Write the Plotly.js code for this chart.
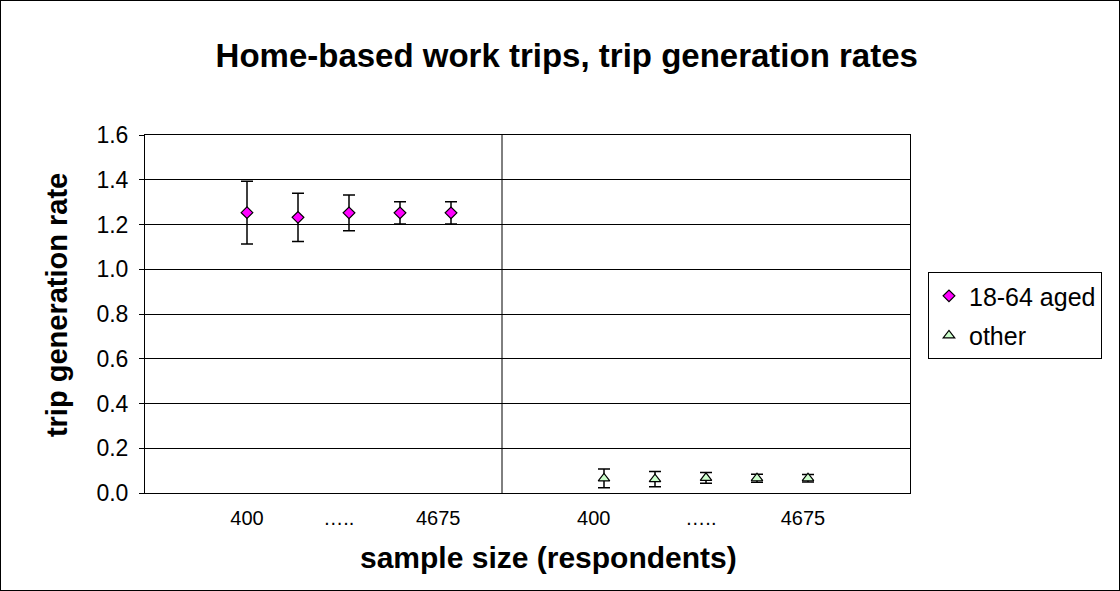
<!DOCTYPE html>
<html>
<head>
<meta charset="utf-8">
<script src="https://cdn.plot.ly/plotly-3.0.1.min.js"></script>
<style>
  html, body { margin: 0; padding: 0; background: #fff; }
  #wrap { position: relative; width: 1120px; height: 591px; }
  #chart { width: 1120px; height: 591px; }
  #frame { position: absolute; left: 0; top: 0; width: 1118px; height: 589px;
           border: 1px solid #000; pointer-events: none; }
</style>
</head>
<body>
<div id="wrap">
  <div id="chart"></div>
  <div id="frame"></div>
</div>
<script>
// Sample-size slots on the category axis (group 1 left of the divider, group 2 right)
const adultSlots = [2, 3, 4, 5, 6];
const otherSlots = [9, 10, 11, 12, 13];
const dividerSlot = 7;

// Trip generation rates and the half-width of their confidence intervals
const adultRates = [1.253, 1.232, 1.252, 1.252, 1.252];
const adultErr   = [0.140, 0.108, 0.080, 0.050, 0.050];
const otherRates = [0.065, 0.062, 0.068, 0.066, 0.066];
const otherErr   = [0.042, 0.034, 0.024, 0.018, 0.017];

// Category labels under the axis
const tickSlots  = [2, 3.8, 5.75, 8.8, 10.9, 12.9];
const tickLabels = ['400', '…..', '4675', '400', '…..', '4675'];

const font = 'Arial, "Liberation Sans", sans-serif';

const traces = [
  {
    name: '18-64 aged', x: adultSlots, y: adultRates, type: 'scatter', mode: 'markers',
    legendgroup: 'a',
    marker: { symbol: 'diamond', size: 9, color: '#FF00FF', line: { color: '#000', width: 1.2 } },
    error_y: { type: 'data', array: adultErr, visible: true, color: '#000', thickness: 1.5, width: 6 }
  },
  {
    name: 'other', x: otherSlots, y: otherRates, type: 'scatter', mode: 'markers',
    legendgroup: 'b',
    marker: { symbol: 'triangle-up', size: 10, color: '#CCFFCC', line: { color: '#000', width: 1.2 } },
    error_y: { type: 'data', array: otherErr, visible: true, color: '#000', thickness: 1.5, width: 6 }
  }
];

const layout = {
  width: 1120, height: 591,
  margin: { l: 145, r: 210, t: 135, b: 98 },
  paper_bgcolor: '#fff', plot_bgcolor: '#fff',
  font: { family: font, color: '#000' },
  title: {
    text: '<b>Home-based work trips, trip generation rates</b>',
    font: { family: font, size: 33, color: '#000' },
    x: 0.506, xanchor: 'center', y: 0.907, yanchor: 'middle'
  },
  xaxis: {
    range: [0, 15], showgrid: false, zeroline: false,
    tickmode: 'array', tickvals: tickSlots, ticktext: tickLabels, ticks: '',
    tickfont: { family: font, size: 20 }, ticklabelstandoff: 7,
    showline: true, linecolor: '#000', linewidth: 1, mirror: true
  },
  yaxis: {
    range: [0, 1.6], dtick: 0.2, tickformat: '.1f',
    showgrid: true, gridcolor: '#000', gridwidth: 1, zeroline: false,
    ticks: 'outside', ticklen: 5, tickcolor: '#000',
    tickfont: { family: font, size: 23 }, ticklabelstandoff: 6,
    showline: true, linecolor: '#000', linewidth: 1, mirror: true
  },
  annotations: [
    { text: '<b>sample size (respondents)</b>', xref: 'paper', yref: 'paper',
      x: 0.527, y: -0.179, xanchor: 'center', yanchor: 'middle', showarrow: false,
      font: { family: font, size: 30, color: '#000' } },
    { text: '<b>trip generation rate</b>', xref: 'paper', yref: 'paper', textangle: -90,
      x: -0.115, y: 0.525, xanchor: 'center', yanchor: 'middle', showarrow: false,
      font: { family: font, size: 29, color: '#000' } }
  ],
  showlegend: true,
  legend: {
    x: 1.0235, xanchor: 'left', y: 0.617, yanchor: 'top',
    bordercolor: '#000', borderwidth: 1, bgcolor: '#fff',
    font: { family: font, size: 25 },
    traceorder: 'grouped', tracegroupgap: 4
  },
  shapes: [
    { type: 'line', xref: 'x', yref: 'paper', x0: dividerSlot, x1: dividerSlot, y0: 0, y1: 1,
      line: { color: '#000', width: 1 } }
  ]
};

Plotly.newPlot('chart', traces, layout, { displayModeBar: false, staticPlot: true });
</script>
</body>
</html>
